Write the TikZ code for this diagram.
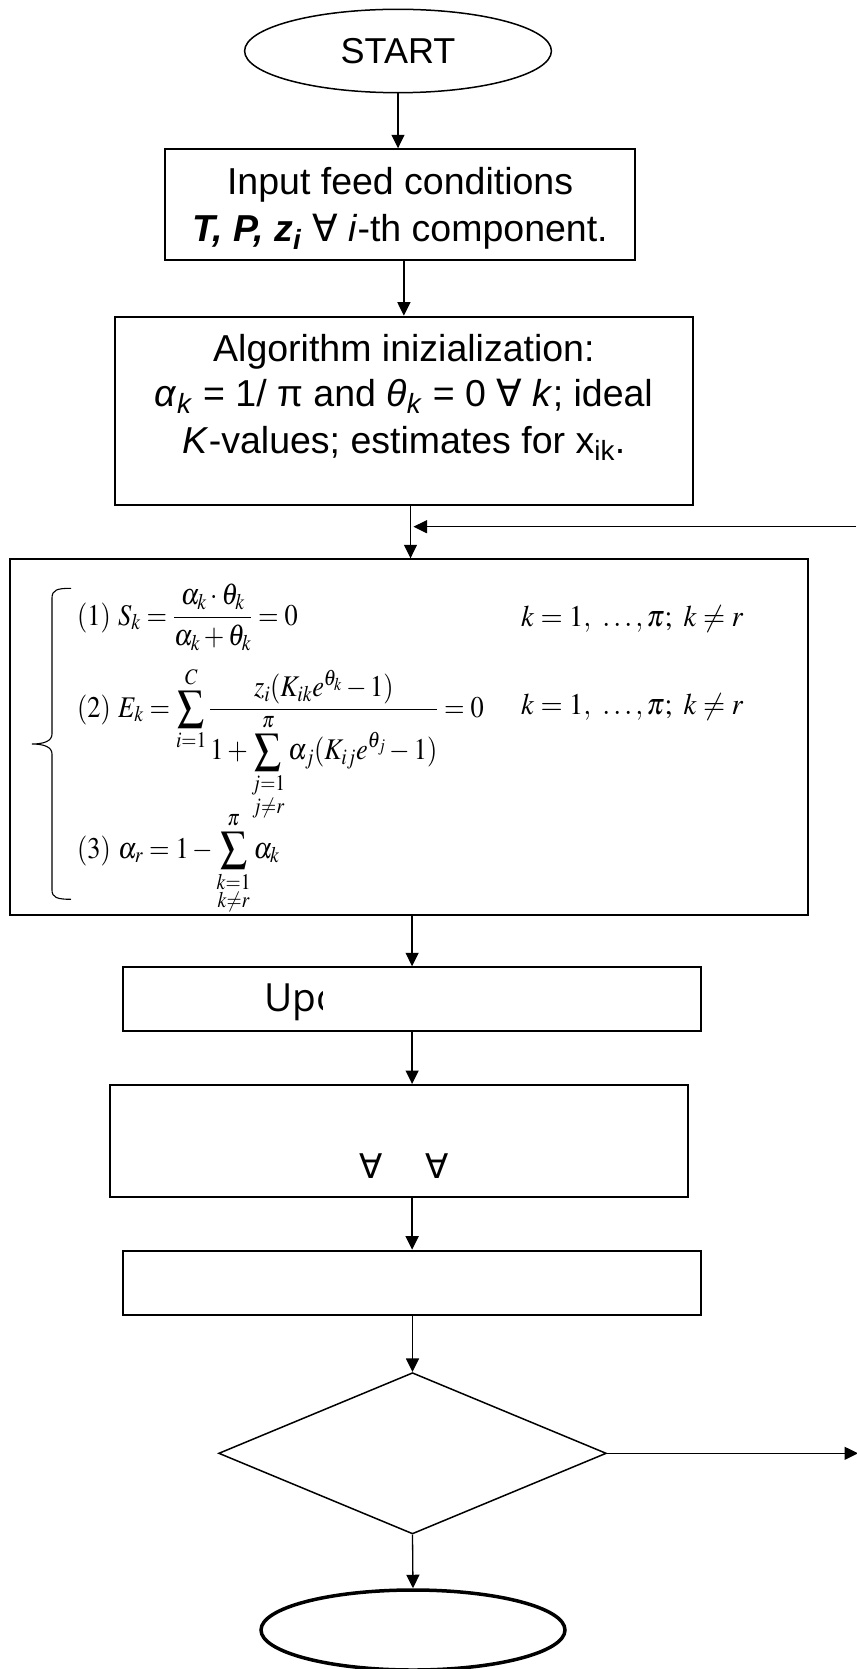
\documentclass[tikz,border=0pt]{standalone}
\usepackage{amsmath}
\usepackage{mathptmx}
\usepackage[no-math]{fontspec}
\setmainfont{Liberation Sans}
\newfontfamily\symbfont{DejaVu Sans}
\newfontfamily\humanfont{Open Sans}
\usepackage{graphicx}
\usetikzlibrary{arrows.meta,positioning,calc,shapes.geometric}

\newcommand{\fa}{{\symbfont ∀}}
\newcommand{\lo}[1]{\textsubscript{#1}}
\newcommand{\narrow}[1]{\scalebox{0.88}[1]{#1}}

\tikzset{
  box/.style={draw, line width=2pt, inner sep=0pt},
  arr/.style={line width=1.3pt, -{Triangle[length=13.5pt, width=13pt]}},
  boxtext/.style={font=\fontsize{37.5}{45}\selectfont, inner sep=0pt, anchor=base},
  eqtext/.style={font=\fontsize{30}{36}\selectfont, inner sep=0pt, anchor=base west},
}

\begin{document}
\begin{tikzpicture}[x=1pt, y=-1pt]
  \useasboundingbox (0,0) rectangle (856,1669);

  % start
  \node[draw, ellipse, line width=1.5pt, minimum width=306.8pt, minimum height=83.4pt,
        inner sep=0pt, font=\fontsize{36}{42}\selectfont] (start) at (398,51) {START};

  % feed conditions
  \node[box, minimum width=470.6pt, minimum height=110.7pt] (feed) at (400.1,204.65) {};
  \node[boxtext] (feedA) at (400.1,195) {Input feed conditions};
  \node[boxtext] (feedB) at (400.1,242) {\textbf{\textit{T, P, z}}\lo{\textbf{\textit{i}}} \fa{} \textit{i}-th component.};

  % initialization
  \node[box, minimum width=578.6pt, minimum height=188.3pt] (init) at (403.9,410.85) {};
  \node[boxtext] (initA) at (403.9,361) {Algorithm inizialization:};
  \node[boxtext] (initB) at (403.9,406.7) {\textit{α}\lo{\textit{k}} = 1/ π and \textit{θ}\lo{\textit{k}} = 0 \fa{} \textit{k}; ideal};
  \node[boxtext] (initC) at (403.9,453) {\textit{K}-values; estimates for x\lo{ik}.};

  % equation system
  \node[box, minimum width=798.5pt, minimum height=355.7pt] (eqs) at (409.05,737.15) {};
  \draw[line width=1.1pt] (71,588.3) .. controls (57,588.3) and (52,590) .. (52,598)
    -- (52,734) .. controls (52,741) and (44,744) .. (32,744)
    .. controls (44,744) and (52,747) .. (52,754)
    -- (52,890) .. controls (52,897.5) and (57,899.3) .. (71,899.3);
  \node[eqtext] (eqS) at (77,625) {\narrow{$\displaystyle (1)\ S_k=\frac{\alpha_k\cdot\theta_k}{\alpha_k+\theta_k}=0$}};
  \node[eqtext] (eqE) at (77,717) {\narrow{$\displaystyle (2)\ E_k=\sum_{i=1}^{C}\dfrac{z_i(K_{ik}e^{\theta_k}-1)}{1+\displaystyle\sum_{\substack{j=1\\ j\neq r}}^{\pi}\alpha_j(K_{ij}e^{\theta_j}-1)}=0$}};
  \node[eqtext] (eqA) at (77,858) {\narrow{$\displaystyle (3)\ \alpha_r=1-\sum_{\substack{k=1\\ k\neq r}}^{\pi}\alpha_k$}};
  \node[eqtext] (condS) at (521,626) {\scalebox{0.95}[1]{$k=1,\ \ldots,\pi;\ k\neq r$}};
  \node[eqtext] (condE) at (521,714) {\scalebox{0.95}[1]{$k=1,\ \ldots,\pi;\ k\neq r$}};

  % update
  \node[box, minimum width=578.6pt, minimum height=63.7pt] (update) at (412.1,999.15) {};
  \begin{scope}
    \clip (update.north west) rectangle (322.7,1031);
    \node[boxtext, anchor=base west, font=\humanfont\fontsize{38.8}{45}\selectfont] (updateText) at (264,1011.7) {Upc};
  \end{scope}

  \node[box, minimum width=578.1pt, minimum height=111.7pt] (sums) at (398.75,1140.85) {};
  \node[boxtext, font=\symbfont\fontsize{34}{40}\selectfont] (sumsText) at (404,1178) {∀\hspace{43pt}∀};

  \node[box, minimum width=578.6pt, minimum height=64.3pt] (test) at (412.1,1282.85) {};

  % decision and stop
  \node[draw, diamond, line width=1.5pt, minimum width=387.7pt, minimum height=161.3pt,
        inner sep=0pt] (check) at (412.5,1453.3) {};
  \node[draw, ellipse, line width=3.5pt, minimum width=304pt, minimum height=80pt,
        inner sep=0pt] (stop) at (413,1630) {};

  % connectors
  \coordinate (merge) at (410.5,526.7);
  \coordinate (back) at (856,526.7);
  \coordinate (out) at (858,1453.3);
  \draw[arr] (start.south) -- (start.south |- feed.north);
  \draw[arr] (feed.south -| init.north) -- (init.north);
  \draw[arr] (init.south -| merge) -- (eqs.north -| merge);
  \draw[arr] (back) -- ([xshift=3pt]merge);
  \draw[arr] (eqs.south -| update.north) -- (update.north);
  \draw[arr] (update.south) -- (update.south |- sums.north);
  \draw[arr] (sums.south -| test.north) -- (test.north);
  \draw[arr] (test.south -| check.north) -- (check.north);
  \draw[arr] (check.east) -- (out);
  \draw[arr] (check.south) -- (stop.north);
\end{tikzpicture}
\end{document}
